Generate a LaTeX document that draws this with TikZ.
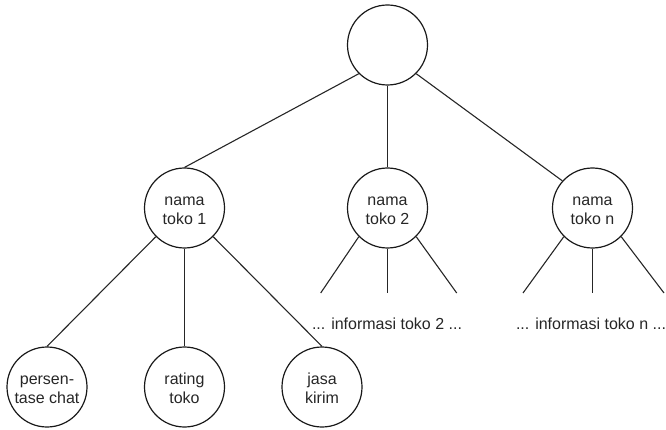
\documentclass[tikz,border=0pt]{standalone}
\usepackage{fontspec}
\setmainfont{Liberation Sans}
\begin{document}
\begin{tikzpicture}[x=1pt,y=-1pt,
  circ/.style={circle,draw=black!90,line width=1.2pt,minimum size=80pt,inner sep=0pt},
  txt/.style={align=center,font=\fontsize{16}{18.5}\selectfont,text=black!85,yshift=-3.5pt},
  info/.style={anchor=base,font=\fontsize{16}{18.5}\selectfont,text=black!85,inner sep=0pt},
  edge/.style={line width=1.1pt,draw=black!85}]
\useasboundingbox (0,0) rectangle (666,430);
\node[circ] (root) at (387.5,45) {};
\node[circ,label={[txt]center:{\strut nama\\\strut toko 1}}] (t1) at (184.5,208) {};
\node[circ,label={[txt]center:{\strut nama\\\strut toko 2}}] (t2) at (387.5,208) {};
\node[circ,label={[txt]center:{\strut nama\\\strut toko n}}] (tn) at (592.5,208) {};
\node[circ,label={[txt]center:{\strut persen-\\\strut tase chat}}] (p) at (47,387) {};
\node[circ,label={[txt]center:{\strut rating\\\strut toko}}] (r) at (184.5,387) {};
\node[circ,label={[txt]center:{\strut jasa\\\strut kirim}}] (j) at (322,387) {};
\coordinate (c2l) at (320.7,293);
\coordinate (c2m) at (387.5,293);
\coordinate (c2r) at (456.7,293);
\coordinate (cnl) at (523,293);
\coordinate (cnm) at (592.5,293);
\coordinate (cnr) at (664,293);
\node[info] (i2) at (387,329) {... informasi toko 2 ...};
\node[info] (in) at (591,329) {... informasi toko n ...};
\draw[edge] (root.225) -- (t1.north);
\draw[edge] (root.south) -- (t2.north);
\draw[edge] (root.-45) -- (tn.138);
\draw[edge] (t1.225) -- (p.north);
\draw[edge] (t1.south) -- (r.north);
\draw[edge] (t1.-45) -- (j.north);
\draw[edge] (t2.225) -- (c2l);
\draw[edge] (t2.south) -- (c2m);
\draw[edge] (t2.-45) -- (c2r);
\draw[edge] (tn.225) -- (cnl);
\draw[edge] (tn.south) -- (cnm);
\draw[edge] (tn.-45) -- (cnr);
\end{tikzpicture}
\end{document}
